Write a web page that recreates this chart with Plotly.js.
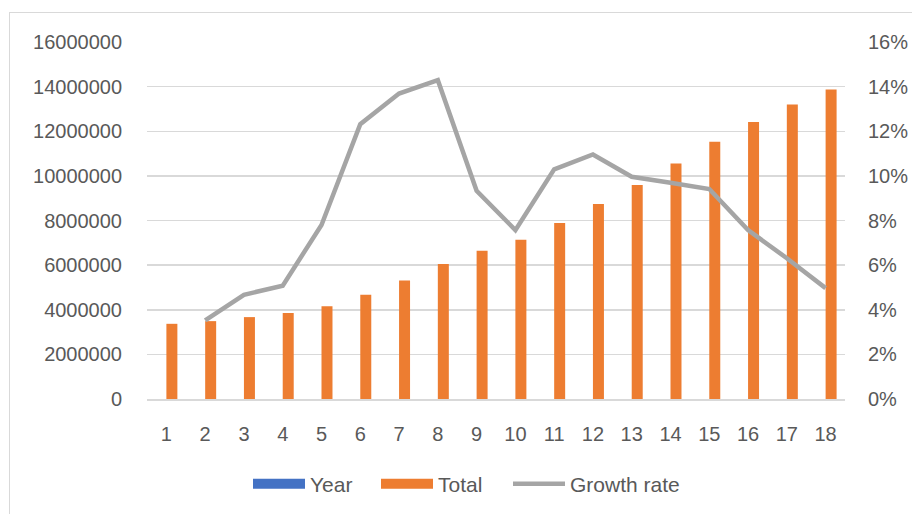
<!DOCTYPE html>
<html>
<head>
<meta charset="utf-8">
<script src="https://cdn.plot.ly/plotly-3.0.1.min.js"></script>
<style>
  html, body { margin: 0; padding: 0; background: #fff; }
  #wrap { position: relative; width: 912px; height: 514px; overflow: hidden; }
  #frame { position: absolute; left: 9px; top: 12px; width: 960px; height: 560px; border: 1px solid #d9d9d9; box-sizing: border-box; }
  #chart { position: absolute; left: 0; top: 0; width: 912px; height: 514px; }
</style>
</head>
<body>
<div id="wrap">
  <div id="frame"></div>
  <div id="chart"></div>
</div>
<script>
const categories = ['1','2','3','4','5','6','7','8','9','10','11','12','13','14','15','16','17','18'];
const yearValues = [1,2,3,4,5,6,7,8,9,10,11,12,13,14,15,16,17,18];
const totalValues = [3370000, 3490000, 3670000, 3850000, 4160000, 4670000, 5310000, 6050000, 6640000,
                     7140000, 7890000, 8740000, 9590000, 10560000, 11530000, 12410000, 13200000, 13870000];
const growthRate = [null, 0.0352, 0.0467, 0.0508, 0.0780, 0.1232, 0.1369, 0.1429, 0.0933,
                    0.0757, 0.1029, 0.1096, 0.0996, 0.0969, 0.0941, 0.0757, 0.0631, 0.0497];
const seriesNames = ['Year', 'Total', 'Growth rate'];

const textColor = '#595959';
const fontFam = '"Liberation Sans", Arial, sans-serif';
const yearColor = '#4472C4', totalColor = '#ED7D31', growthColor = '#A5A5A5';

const traces = [
  { type: 'bar', name: seriesNames[0], x: categories, y: yearValues, marker: { color: yearColor },
    yaxis: 'y', showlegend: false },
  { type: 'bar', name: seriesNames[1], x: categories, y: totalValues, marker: { color: totalColor },
    yaxis: 'y', showlegend: false },
  { type: 'scatter', mode: 'lines', name: seriesNames[2], x: categories, y: growthRate,
    line: { color: growthColor, width: 4.5 }, yaxis: 'y2', connectgaps: false, showlegend: false },
  // legend entries (wide Excel-style swatches), each in its own legend box
  { type: 'scatter', mode: 'lines', name: seriesNames[0], x: [null], y: [null], yaxis: 'y2',
    line: { color: yearColor, width: 12 }, legend: 'legend' },
  { type: 'scatter', mode: 'lines', name: seriesNames[1], x: [null], y: [null], yaxis: 'y2',
    line: { color: totalColor, width: 12 }, legend: 'legend2' },
  { type: 'scatter', mode: 'lines', name: seriesNames[2], x: [null], y: [null], yaxis: 'y2',
    line: { color: growthColor, width: 4.5 }, legend: 'legend3' }
];

function legendBox(xPx) {
  return {
    orientation: 'h', xref: 'container', yref: 'container',
    x: (xPx - 5) / 912, xanchor: 'left', y: (514 - 484) / 514, yanchor: 'middle',
    font: { family: fontFam, size: 21, color: textColor },
    itemwidth: 52, bgcolor: 'rgba(0,0,0,0)'
  };
}

const layout = {
  width: 912, height: 514,
  margin: { l: 147, r: 67, t: 42, b: 115 },
  paper_bgcolor: 'rgba(0,0,0,0)',
  plot_bgcolor: 'rgba(0,0,0,0)',
  font: { family: fontFam, size: 20, color: textColor },
  barmode: 'group',
  bargap: 0.433,
  bargroupgap: 0,
  showlegend: true,
  legend: legendBox(253),
  legend2: legendBox(381),
  legend3: legendBox(513),
  xaxis: {
    type: 'category',
    showgrid: false, zeroline: false,
    showline: true, linecolor: '#d9d9d9', linewidth: 1.5,
    ticks: '', ticklabelstandoff: 16,
    tickfont: { family: fontFam, size: 20, color: textColor }
  },
  yaxis: {
    range: [0, 16000000], dtick: 2000000, tick0: 0,
    tickformat: 'd',
    showgrid: true, gridcolor: '#d9d9d9', gridwidth: 1.5,
    zeroline: false, showline: false, ticks: '',
    ticklabelstandoff: 24,
    tickfont: { family: fontFam, size: 20, color: textColor }
  },
  yaxis2: {
    overlaying: 'y', side: 'right',
    range: [0, 0.16], dtick: 0.02, tick0: 0,
    tickformat: '.0%',
    showgrid: false, zeroline: false, showline: false, ticks: '',
    ticklabelstandoff: 22,
    tickfont: { family: fontFam, size: 20, color: textColor }
  }
};

Plotly.newPlot('chart', traces, layout, { displayModeBar: false, staticPlot: true });
</script>
</body>
</html>
